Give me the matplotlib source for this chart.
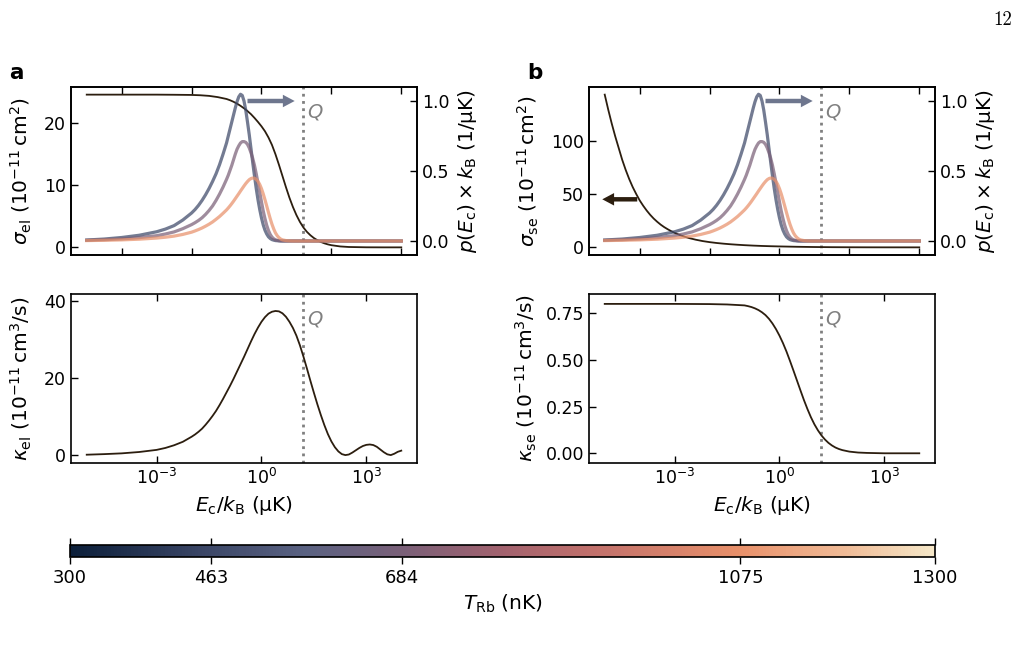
import numpy as np
import matplotlib
matplotlib.use("Agg")
import matplotlib.pyplot as plt
from matplotlib.colors import LinearSegmentedColormap, Normalize
from matplotlib.cm import ScalarMappable
from matplotlib.ticker import FixedLocator, NullLocator, LogFormatterMathtext

plt.rcParams['font.family'] = ['DejaVu Sans']
plt.rcParams['mathtext.fontset'] = 'dejavusans'

# ---------------- data (x given as log10 of E_c/k_B in uK) ----------------
logE_p = [-5, -4.5, -4, -3.5, -3, -2.75, -2.5, -2.25,
          -2.0, -1.9, -1.8, -1.7, -1.6, -1.5, -1.4, -1.3, -1.2, -1.1,
          -1.0, -0.95, -0.9, -0.85, -0.8, -0.75, -0.7, -0.65, -0.6, -0.55,
          -0.5, -0.45, -0.4, -0.35, -0.3, -0.25, -0.2, -0.15, -0.1, -0.05, 0.0,
          0.05, 0.1, 0.15, 0.2, 0.25, 0.3, 0.35, 0.4, 0.45, 0.5, 0.55, 0.6,
          0.7, 0.8, 0.9, 1.0, 1.5, 2.0, 3.0, 4.0]
p_463 = [0.007, 0.014, 0.025, 0.041, 0.066, 0.085, 0.11, 0.15,
         0.20, 0.225, 0.255, 0.29, 0.33, 0.375, 0.425, 0.48, 0.545, 0.62,
         0.70, 0.75, 0.80, 0.85, 0.90, 0.95, 0.995, 1.03, 1.048, 1.04,
         1.0, 0.935, 0.85, 0.76, 0.66, 0.56, 0.465, 0.375, 0.295, 0.225, 0.165,
         0.115, 0.077, 0.05, 0.03, 0.018, 0.01, 0.006, 0.003, 0.002, 0.001, 0, 0,
         0, 0, 0, 0, 0, 0, 0, 0]
p_684 = [0.005, 0.009, 0.015, 0.024, 0.038, 0.05, 0.065, 0.088,
         0.117, 0.131, 0.147, 0.166, 0.19, 0.218, 0.25, 0.29, 0.335, 0.385,
         0.44, 0.47, 0.505, 0.54, 0.58, 0.62, 0.655, 0.68, 0.70, 0.71,
         0.71, 0.705, 0.69, 0.665, 0.63, 0.59, 0.54, 0.48, 0.415, 0.35, 0.28,
         0.215, 0.16, 0.112, 0.075, 0.047, 0.028, 0.016, 0.009, 0.005, 0.002, 0.001, 0,
         0, 0, 0, 0, 0, 0, 0, 0]
p_1075 = [0.003, 0.005, 0.008, 0.013, 0.021, 0.027, 0.035, 0.047,
          0.063, 0.072, 0.082, 0.093, 0.106, 0.12, 0.136, 0.155, 0.175, 0.198,
          0.222, 0.236, 0.251, 0.267, 0.284, 0.302, 0.32, 0.338, 0.357, 0.375,
          0.393, 0.41, 0.425, 0.438, 0.446, 0.45, 0.448, 0.44, 0.426, 0.404, 0.374,
          0.337, 0.295, 0.25, 0.204, 0.16, 0.12, 0.086, 0.058, 0.038, 0.024, 0.014, 0.008,
          0.003, 0.001, 0, 0, 0, 0, 0, 0]
T_curves = [463, 684, 1075]

logE_sel = [-5, -4, -3, -2.5, -2, -1.75, -1.5, -1.25,
            -1.0, -0.9, -0.8, -0.7, -0.6, -0.5, -0.4, -0.3, -0.2, -0.1, 0.0,
            0.1, 0.2, 0.3, 0.4, 0.5, 0.6, 0.7, 0.8, 0.9, 1.0,
            1.1, 1.2, 1.3, 1.4, 1.5, 1.6, 1.7, 1.8, 1.9, 2.0,
            2.25, 2.5, 3.0, 3.5, 4.0]
sigma_el = [24.6, 24.6, 24.6, 24.58, 24.55, 24.5, 24.4, 24.2,
            23.9, 23.7, 23.45, 23.15, 22.8, 22.4, 21.95, 21.45, 20.85, 20.2, 19.5,
            18.7, 17.7, 16.5, 15.0, 13.3, 11.5, 9.7, 8.0, 6.5, 5.2,
            4.1, 3.2, 2.5, 1.95, 1.5, 1.15, 0.87, 0.65, 0.48, 0.35,
            0.15, 0.06, 0.01, 0.0, 0.0]

logE_sse = [-5, -4.9, -4.8, -4.7, -4.6, -4.5, -4.4, -4.3, -4.2, -4.1, -4.0,
            -3.9, -3.8, -3.7, -3.6, -3.5, -3.4, -3.3, -3.2, -3.1, -3.0,
            -2.8, -2.6, -2.4, -2.2, -2.0, -1.8, -1.6, -1.4, -1.2, -1.0,
            -0.75, -0.5, -0.25, 0.0, 0.5, 1.0, 1.5, 2.0, 2.5, 3.0, 4.0]
sigma_se = [143, 129, 116, 104, 93, 82, 72.5, 64, 56.5, 50, 44,
            39, 34.5, 30.5, 27, 24, 21.3, 19, 17, 15.2, 13.6,
            10.9, 8.8, 7.2, 5.9, 4.9, 4.1, 3.45, 2.9, 2.45, 2.05,
            1.65, 1.32, 1.07, 0.87, 0.55, 0.32, 0.17, 0.09, 0.045, 0.02, 0.0]

logE_kel = [-5, -4.5, -4, -3.5, -3, -2.75, -2.5, -2.25,
            -2.0, -1.9, -1.8, -1.7, -1.6, -1.5, -1.4, -1.3, -1.2, -1.1,
            -1.0, -0.9, -0.8, -0.7, -0.6, -0.5, -0.4, -0.3, -0.2, -0.1,
            0.0, 0.1, 0.2, 0.3, 0.4, 0.5, 0.6, 0.7, 0.8, 0.9,
            1.0, 1.1, 1.2, 1.3, 1.4, 1.5, 1.6, 1.7, 1.8, 1.9,
            2.0, 2.1, 2.2, 2.3, 2.4, 2.5, 2.6, 2.7, 2.8, 2.9,
            3.0, 3.1, 3.2, 3.3, 3.4, 3.5, 3.6, 3.7, 3.8, 3.9, 4.0]
kappa_el = [0.15, 0.3, 0.5, 0.85, 1.4, 1.9, 2.6, 3.5,
            4.8, 5.4, 6.1, 6.9, 7.9, 9.0, 10.2, 11.5, 13.0, 14.6,
            16.3, 18.0, 19.8, 21.7, 23.6, 25.5, 27.5, 29.5, 31.4, 33.1,
            34.6, 35.8, 36.7, 37.2, 37.4, 37.3, 36.8, 35.9, 34.6, 33.0,
            31.0, 28.5, 25.6, 22.5, 19.3, 16.2, 13.2, 10.4, 7.8, 5.5,
            3.6, 2.1, 1.0, 0.3, 0.05, 0.2, 0.7, 1.3, 1.9, 2.4,
            2.7, 2.8, 2.65, 2.2, 1.5, 0.8, 0.25, 0.05, 0.4, 0.9, 1.2]

logE_kse = [-5, -3, -2, -1.5, -1.0, -0.9, -0.8, -0.7, -0.6, -0.5, -0.4, -0.3, -0.2,
            -0.1, 0.0, 0.1, 0.2, 0.3, 0.4, 0.5, 0.6, 0.7, 0.8, 0.9, 1.0, 1.1, 1.2,
            1.3, 1.4, 1.5, 1.6, 1.7, 1.8, 2.0, 2.25, 2.5, 3.0, 4.0]
kappa_se = [0.80, 0.80, 0.799, 0.797, 0.792, 0.788, 0.783, 0.776, 0.767, 0.755, 0.74,
            0.72, 0.695, 0.665, 0.63, 0.59, 0.545, 0.495, 0.443, 0.39, 0.337, 0.285,
            0.237, 0.193, 0.155, 0.123, 0.096, 0.074, 0.056, 0.042, 0.031, 0.023, 0.017,
            0.009, 0.004, 0.002, 0.0, 0.0]

Q_value = 15.0
cbar_ticks = [300, 463, 684, 1075, 1300]
T_min, T_max = 300, 1300

# ---------------- styling ----------------
cmap = LinearSegmentedColormap.from_list(
    "trb",
    [(0.0, "#0c1f3a"), (0.16, "#3d4868"), (0.27, "#5a6282"), (0.384, "#7a6078"),
     (0.5, "#a2626e"), (0.6, "#c0706c"), (0.775, "#e8906a"), (0.9, "#f0bc98"),
     (1.0, "#f5e7c8")])
norm = Normalize(T_min, T_max)
dark = "#2c1e0f"
qcol = "#808080"
TICK_FS = 12.5
LABEL_FS = 14.5

W, H = 1022, 654
fig = plt.figure(figsize=(W / 100, H / 100), dpi=100)

def fx(px):
    return px / W

def fy(py):
    return 1 - py / H

axL = [71, 417]
axR = [589, 935]
top_y = [87, 255]
bot_y = [294, 463]

def make_ax(xr, yr):
    return fig.add_axes([fx(xr[0]), fy(yr[1]), fx(xr[1] - xr[0]), (yr[1] - yr[0]) / H])

ax_a1 = make_ax(axL, top_y)
ax_b1 = make_ax(axR, top_y)
ax_a2 = make_ax(axL, bot_y)
ax_b2 = make_ax(axR, bot_y)

def x_of(lst):
    return 10.0 ** np.asarray(lst, dtype=float)

def style_x(ax, labels):
    ax.set_xscale('log')
    ax.set_xlim(10 ** -5.45, 10 ** 4.45)
    ax.xaxis.set_major_locator(FixedLocator([1e-3, 1e0, 1e3]))
    ax.xaxis.set_minor_locator(NullLocator())
    ax.xaxis.set_major_formatter(LogFormatterMathtext())
    ax.tick_params(axis='both', direction='in', top=True, length=5, width=1,
                   labelsize=TICK_FS)
    if not labels:
        ax.tick_params(axis='x', labelbottom=False)
    else:
        ax.set_xlabel(r'$E_\mathrm{c}/k_\mathrm{B}$ (μK)', fontsize=LABEL_FS, labelpad=4)
    for s in ax.spines.values():
        s.set_linewidth(1.2)

def q_line(ax):
    ax.axvline(Q_value, color=qcol, ls=(0, (1, 1.6)), lw=2, zorder=1)
    ax.text(Q_value * 10 ** 0.12, 0.85, 'Q', transform=ax.get_xaxis_transform(),
            color=qcol, fontsize=14, fontstyle='italic', va='center', ha='left')

def arrow(ax, x0, x1, y, color, alpha=1.0):
    ax.annotate('', xy=(x1, y), xytext=(x0, y),
                arrowprops=dict(arrowstyle='simple,head_length=0.85,head_width=0.9,'
                                           'tail_width=0.32',
                                mutation_scale=10, fc=color, ec='none', lw=0,
                                alpha=alpha, shrinkA=0, shrinkB=0))

# ---- panel a top ----
ax_a1.plot(x_of(logE_sel), sigma_el, color=dark, lw=1.3, zorder=2)
ax_a1.set_ylabel(r'$\sigma_\mathrm{el}$ $(10^{-11}\,\mathrm{cm}^2)$', fontsize=LABEL_FS,
                 labelpad=7)
ax_a1.set_yticks([0, 10, 20])
style_x(ax_a1, False)
q_line(ax_a1)

# ---- panel b top ----
ax_b1.plot(x_of(logE_sse), sigma_se, color=dark, lw=1.3, zorder=2)
ax_b1.set_ylabel(r'$\sigma_\mathrm{se}$ $(10^{-11}\,\mathrm{cm}^2)$', fontsize=LABEL_FS,
                 labelpad=7)
ax_b1.set_yticks([0, 50, 100])
style_x(ax_b1, False)
q_line(ax_b1)

p_curves = [p_463, p_684, p_1075]
for ax in (ax_a1, ax_b1):
    tw = ax.twinx()
    for T, pc in zip(T_curves, p_curves):
        tw.plot(x_of(logE_p), pc, color=cmap(norm(T)), lw=2.3, alpha=0.72)
    tw.set_ylim(-0.1, 1.1)
    tw.set_yticks([0.0, 0.5, 1.0])
    tw.set_yticklabels(['0.0', '0.5', '1.0'])
    tw.tick_params(axis='y', direction='in', length=5, width=1, labelsize=TICK_FS)
    tw.set_ylabel(r'$p(E_\mathrm{c})\times k_\mathrm{B}$ (1/μK)', fontsize=LABEL_FS,
                  labelpad=5)
    tw.set_xscale('log')
    tw.set_xlim(10 ** -5.45, 10 ** 4.45)
    tw.xaxis.set_minor_locator(NullLocator())
    arrow(tw, 10 ** -0.4, 10 ** 0.95, 1.0, cmap(norm(T_curves[0])), alpha=0.75)
    for s in tw.spines.values():
        s.set_linewidth(1.2)

arrow(ax_b1, 10 ** -4.07, 10 ** -5.07, 45, dark)

# ---- panel a bottom ----
ax_a2.plot(x_of(logE_kel), kappa_el, color=dark, lw=1.3)
ax_a2.set_ylim(-2.0, 41.8)
ax_a2.set_yticks([0, 20, 40])
ax_a2.set_ylabel(r'$\kappa_\mathrm{el}$ $(10^{-11}\,\mathrm{cm}^3\mathrm{/s})$',
                 fontsize=LABEL_FS, labelpad=7)
style_x(ax_a2, True)
q_line(ax_a2)

# ---- panel b bottom ----
ax_b2.plot(x_of(logE_kse), kappa_se, color=dark, lw=1.3)
ax_b2.set_ylim(-0.052, 0.853)
ax_b2.set_yticks([0.0, 0.25, 0.5, 0.75])
ax_b2.set_yticklabels(['0.00', '0.25', '0.50', '0.75'])
ax_b2.set_ylabel(r'$\kappa_\mathrm{se}$ $(10^{-11}\,\mathrm{cm}^3\mathrm{/s})$',
                 fontsize=LABEL_FS, labelpad=5)
style_x(ax_b2, True)
q_line(ax_b2)

# panel letters
fig.text(fx(9), fy(73), 'a', fontsize=15.5, fontweight='bold', va='center', ha='left')
fig.text(fx(527), fy(73), 'b', fontsize=15.5, fontweight='bold', va='center', ha='left')

# page number
fig.text(fx(1012), fy(20), '12', fontsize=13.5, family='cmr10', ha='right', va='center')

# ---- colorbar ----
cax = fig.add_axes([fx(70), fy(557), fx(935 - 70), 12 / H])
cb = fig.colorbar(ScalarMappable(norm=norm, cmap=cmap), cax=cax, orientation='horizontal')
cb.set_ticks(cbar_ticks)
cb.set_ticklabels([str(t) for t in cbar_ticks])
cax.tick_params(axis='x', direction='out', top=True, bottom=True, length=5, width=1,
                labelsize=13)
cb.outline.set_linewidth(1.2)
cb.set_label(r'$T_\mathrm{Rb}$ (nK)', fontsize=14.5)

fig.savefig('out.png', dpi=100)
